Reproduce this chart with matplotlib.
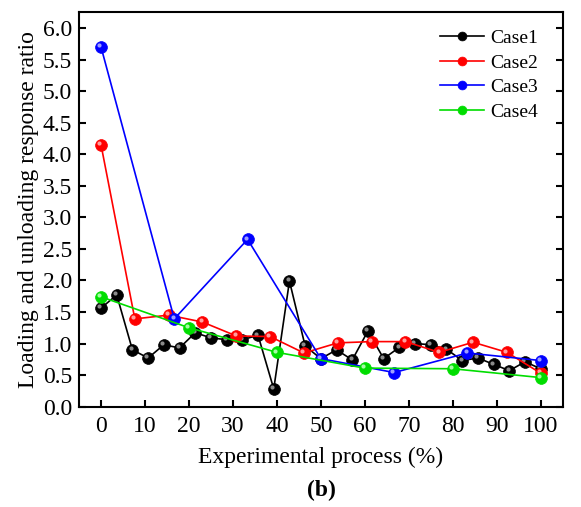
import numpy as np
import matplotlib
matplotlib.use("Agg")
import matplotlib.pyplot as plt
from matplotlib.transforms import offset_copy

# Experimental process (%) and loading/unloading response ratio per case
case1_x = np.linspace(0, 100, 29)
case1_y = [1.56, 1.77, 0.90, 0.77, 0.98, 0.93, 1.17, 1.09, 1.06, 1.06,
           1.13, 0.28, 1.99, 0.96, 0.76, 0.90, 0.74, 1.20, 0.76, 0.94,
           1.00, 0.98, 0.91, 0.73, 0.77, 0.67, 0.57, 0.71, 0.60]

case2_x = np.linspace(0, 100, 14)
case2_y = [4.15, 1.39, 1.45, 1.34, 1.12, 1.11, 0.85, 1.01, 1.03, 1.03,
           0.86, 1.02, 0.86, 0.53]

case3_x = np.linspace(0, 100, 7)
case3_y = [5.70, 1.39, 2.65, 0.76, 0.54, 0.85, 0.73]

case4_x = [0, 20, 40, 60, 80, 100]
case4_y = [1.74, 1.25, 0.86, 0.61, 0.60, 0.46]

series = [
    ("Case1", case1_x, case1_y, "#000000", "#9a9a9a"),
    ("Case2", case2_x, case2_y, "#ff0000", "#ffb0b0"),
    ("Case3", case3_x, case3_y, "#0000ff", "#b0b0ff"),
    ("Case4", case4_x, case4_y, "#00dd00", "#b8ffb8"),
]

plt.rcParams['font.family'] = ['Liberation Serif', 'DejaVu Serif']

fig = plt.figure(figsize=(5.81, 5.07), dpi=100)
ax = fig.add_axes([0.136, 0.198, 0.8325, 0.778])

# shaded "ball" markers: solid marker plus a small offset highlight
highlight = offset_copy(ax.transData, fig=fig, x=-1.2, y=1.2, units='points')
handles = []
for label, xs, ys, color, light in series:
    line, = ax.plot(xs, ys, color=color, lw=1.2, marker='o', ms=8.5,
                    mfc=color, mec=color, mew=0.5, label=label)
    ax.plot(xs, ys, ls='none', marker='o', ms=3, mfc=light, mec='none',
            alpha=0.9, transform=highlight)
    handles.append(line)

ax.set_xlim(-5, 105)
ax.set_ylim(0, 6.25)
ax.set_xticks(np.arange(0, 101, 10))
ax.set_yticks(np.arange(0, 6.01, 0.5))
ax.set_yticklabels([f"{v:.1f}" for v in np.arange(0, 6.01, 0.5)])

ax.tick_params(axis='both', direction='in', length=5, width=1.5,
               labelsize=17, top=False, right=True)
ax.tick_params(axis='x', pad=7)
ax.tick_params(axis='y', pad=5)
for spine in ax.spines.values():
    spine.set_linewidth(1.5)

ax.set_xlabel("Experimental process (%)", fontsize=17, labelpad=7)
ax.set_ylabel("Loading and unloading response ratio", fontsize=17, labelpad=3)
ax.legend(handles=handles, loc='upper right', bbox_to_anchor=(0.985, 1.0),
          frameon=False, fontsize=14, handlelength=2.3, handletextpad=0.3,
          labelspacing=0.35, markerscale=0.75)

fig.text(0.553, 0.022, "(b)", fontsize=17, fontweight='bold', ha='center')

fig.savefig("out.png", dpi=100)
